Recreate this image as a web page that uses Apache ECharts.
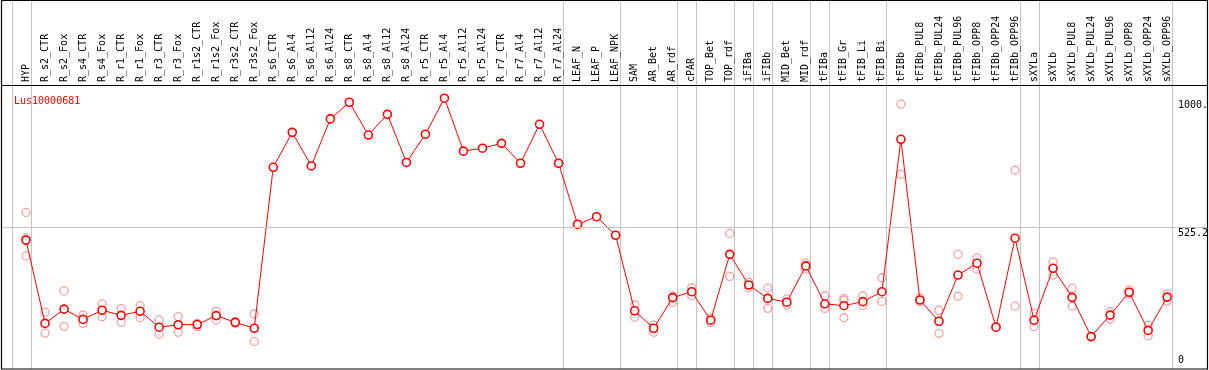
<!DOCTYPE html>
<html>
<head>
<meta charset="utf-8">
<script src="https://cdn.jsdelivr.net/npm/echarts@6/dist/echarts.min.js"></script>
<style>html,body{margin:0;padding:0;background:#fff;}#c{width:1209px;height:370px;}</style>
</head>
<body>
<div id="c"></div>
<script>
const categories = ["HYP","R_s2_CTR","R_s2_Fox","R_s4_CTR","R_s4_Fox","R_r1_CTR","R_r1_Fox","R_r3_CTR","R_r3_Fox","R_r1s2_CTR","R_r1s2_Fox","R_r3s2_CTR","R_r3s2_Fox","R_s6_CTR","R_s6_Al4","R_s6_Al12","R_s6_Al24","R_s8_CTR","R_s8_Al4","R_s8_Al12","R_s8_Al24","R_r5_CTR","R_r5_Al4","R_r5_Al12","R_r5_Al24","R_r7_CTR","R_r7_Al4","R_r7_Al12","R_r7_Al24","LEAF_N","LEAF_P","LEAF_NPK","SAM","AR_Bet","AR_rdf","cPAR","TOP_Bet","TOP_rdf","iFIBa","iFIBb","MID_Bet","MID_rdf","tFIBa","tFIB_Gr","tFIB_Li","tFIB_Bi","tFIBb","tFIBb_PUL8","tFIBb_PUL24","tFIBb_PUL96","tFIBb_OPP8","tFIBb_OPP24","tFIBb_OPP96","sXYLa","sXYLb","sXYLb_PUL8","sXYLb_PUL24","sXYLb_PUL96","sXYLb_OPP8","sXYLb_OPP24","sXYLb_OPP96"];
const meanValues = [477,167,220,182,216,197,212,153,162,163,196,171,149,748,878,753,928,990,868,945,766,871,1005,808,819,837,763,908,763,536,564,495,214,149,263,285,179,424,310,260,246,381,240,233,248,285,852,254,175,347,391,153,484,179,372,264,118,198,283,141,265];
const repA = [580,209,288,198,240,222,233,180,192,167,212,174,202,null,null,null,null,null,null,null,null,null,null,null,null,null,null,null,null,null,null,null,236,161,269,300,187,502,320,298,258,391,269,260,269,337,983,262,216,424,412,154,737,205,396,298,118,211,292,161,276];
const repB = [485,131,156,167,192,171,188,127,134,155,180,168,100,null,null,null,null,null,null,null,null,null,null,null,null,null,null,null,null,null,null,null,190,134,246,270,170,342,300,223,236,369,223,254,233,249,722,247,130,268,369,152,231,155,347,231,118,183,275,121,250];
const repC = [418,null,null,null,null,null,null,null,null,null,null,null,null,null,null,null,null,null,null,null,null,null,null,null,null,null,null,null,null,null,null,null,null,null,null,null,null,null,null,null,null,null,null,188,null,null,null,null,null,null,null,null,null,null,null,null,null,null,null,null,null];
const yTickValues = [0, 525.2, 1000];
const yTickLabels = ["0", "525.2", "1000."];
const groupEnds = [-1, 0, 28, 31, 34, 35, 37, 38, 39, 41, 42, 45, 52, 53, 60];
const geneName = "Lus10000681";

const FONT = "DejaVu Sans Mono";
const chart = echarts.init(document.getElementById('c'), null, {renderer: 'canvas'});

function reps(arr) {
  const out = [];
  arr.forEach((v, i) => { if (v !== null) out.push([i, v]); });
  return out;
}

chart.setOption({
  animation: false,
  backgroundColor: '#fff',
  title: {
    text: geneName, left: 9, top: 91,
    textStyle: {color: '#ff0000', fontSize: 10, fontFamily: FONT, fontWeight: 'normal'}
  },
  grid: {left: 16.5, right: 32.3, top: 86, height: 282.3},
  xAxis: {
    type: 'category', data: categories, position: 'top', boundaryGap: true,
    axisLine: {show: false}, axisTick: {show: false}, splitLine: {show: false},
    axisLabel: {interval: 0, rotate: 90, margin: 4, fontSize: 10, fontFamily: FONT, color: '#000'}
  },
  yAxis: {
    type: 'value', min: 0, max: 1050.4, position: 'right',
    axisLine: {show: false}, axisTick: {show: false}, splitLine: {show: false},
    axisLabel: {show: false}
  },
  series: [
    {type: 'scatter', data: reps(repA), symbol: 'circle', symbolSize: 8, z: 2,
     itemStyle: {color: 'rgba(0,0,0,0)', borderColor: '#f08c8c', borderWidth: 1.3}},
    {type: 'scatter', data: reps(repB), symbol: 'circle', symbolSize: 8, z: 2,
     itemStyle: {color: 'rgba(0,0,0,0)', borderColor: '#f08c8c', borderWidth: 1.3}},
    {type: 'scatter', data: reps(repC), symbol: 'circle', symbolSize: 8, z: 2,
     itemStyle: {color: 'rgba(0,0,0,0)', borderColor: '#f08c8c', borderWidth: 1.3}},
    {type: 'line', data: meanValues, symbol: 'circle', symbolSize: 8, showAllSymbol: true, z: 3,
     lineStyle: {color: '#ff0000', width: 1},
     itemStyle: {color: '#ffffff', borderColor: '#ff0000', borderWidth: 1.6},
     markLine: {silent: true, symbol: 'none', label: {show: false},
       lineStyle: {color: '#c4c4c4', width: 1, type: 'solid'},
       data: [{yAxis: yTickValues[1]}]}}
  ]
});

// decorations positioned through the axes
const x0 = chart.convertToPixel({xAxisIndex: 0}, 0);
const x1 = chart.convertToPixel({xAxisIndex: 0}, 1);
const step = x1 - x0;
const graphics = [];
groupEnds.forEach(i => {
  const x = Math.round(x0 + i * step + 0.24 * step) + 0.5;
  graphics.push({type: 'line', z: 0, silent: true,
    shape: {x1: x, y1: 0, x2: x, y2: 369},
    style: {stroke: '#c4c4c4', lineWidth: 1}});
});
// markLine horizontal extends across full frame
const yMid = Math.round(chart.convertToPixel({yAxisIndex: 0}, yTickValues[1])) + 0.5;
graphics.push({type: 'line', z: 0, silent: true, shape: {x1: 1, y1: yMid, x2: 1207, y2: yMid},
  style: {stroke: '#c4c4c4', lineWidth: 1}});
yTickValues.forEach((v, k) => {
  let y = chart.convertToPixel({yAxisIndex: 0}, v);
  const isBottom = (v === 0);
  graphics.push({type: 'text', z: 10, silent: true, x: 1178, y: isBottom ? y - 3 : y + 1,
    style: {text: yTickLabels[k], fill: '#000', font: '10px "' + FONT + '"',
      textAlign: 'left', textVerticalAlign: isBottom ? 'bottom' : 'top'}});
});
// frame
graphics.push({type: 'rect', z: 20, silent: true, shape: {x: 1.5, y: 0.5, width: 1206, height: 368.5},
  style: {fill: null, stroke: '#000', lineWidth: 1.2}});
graphics.push({type: 'line', z: 20, silent: true, shape: {x1: 1, y1: 85.5, x2: 1208, y2: 85.5},
  style: {stroke: '#000', lineWidth: 1.2}});
chart.setOption({graphic: graphics});
</script>
</body>
</html>
